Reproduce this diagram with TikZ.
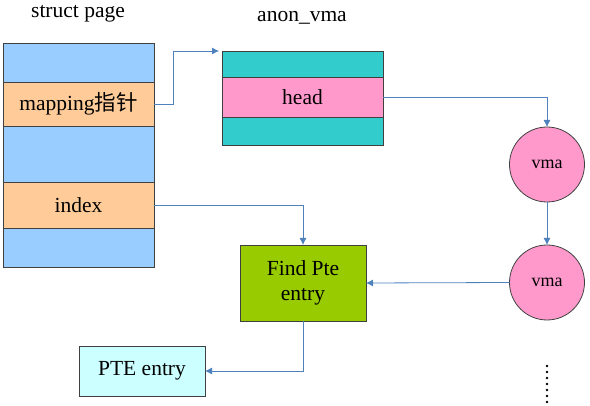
\documentclass[tikz,border=0pt]{standalone}
\usepackage{fontspec}
\setmainfont{Liberation Serif}
\newfontfamily\cjk{Noto Sans CJK SC}
\usetikzlibrary{arrows.meta}
\definecolor{pgblue}{HTML}{99CCFF}
\definecolor{pgorange}{HTML}{FFCC99}
\definecolor{avteal}{HTML}{33CCCC}
\definecolor{avpink}{HTML}{FF99CC}
\definecolor{fgreen}{HTML}{99CC00}
\definecolor{pcyan}{HTML}{CCFFFF}
\definecolor{arrowblue}{HTML}{4F81BD}
\tikzset{
  cell/.style={draw=black!75, line width=0.8pt, rectangle, inner sep=0pt, outer sep=0pt, font=\rmfamily\fontsize{21.5}{25}\selectfont},
  vmanode/.style={draw=black!75, line width=0.8pt, circle, fill=avpink, minimum size=75pt, inner sep=0pt, outer sep=0pt, font=\rmfamily\fontsize{18}{20}\selectfont},
  link/.style={draw=arrowblue, line width=0.8pt, -{Latex[length=7pt,width=7pt]}},
  title/.style={font=\rmfamily\fontsize{21.5}{25}\selectfont, inner sep=0pt, anchor=base}
}
\begin{document}
\begin{tikzpicture}[x=1pt,y=-1pt]
\useasboundingbox (0,0) rectangle (590,406);
% struct page
\node[title] (sptitle) at (78,18) {struct page};
\node[cell, fill=pgblue, minimum width=151pt, minimum height=39pt] (sp1) at (78.5,62.5) {};
\node[cell, fill=pgorange, minimum width=151pt, minimum height=44pt] (map) at (78.5,104) {mapping{\cjk 指针}};
\node[cell, fill=pgblue, minimum width=151pt, minimum height=56pt] (sp2) at (78.5,154) {};
\node[cell, fill=pgorange, minimum width=151pt, minimum height=46pt] (idx) at (78.5,205) {index};
\node[cell, fill=pgblue, minimum width=151pt, minimum height=39pt] (sp3) at (78.5,247.5) {};
% anon_vma
\node[title] (avtitle) at (302,22) {anon\_vma};
\node[cell, fill=avteal, minimum width=161pt, minimum height=26pt] (av1) at (302.5,64) {};
\node[cell, fill=avpink, minimum width=161pt, minimum height=40pt] (head) at (302.5,97) {head};
\node[cell, fill=avteal, minimum width=161pt, minimum height=28pt] (av2) at (302.5,131) {};
% vmas
\node[vmanode] (vma1) at (547,164.5) {vma};
\node[vmanode] (vma2) at (547,282.5) {vma};
% find pte
\node[cell, fill=fgreen, minimum width=126pt, minimum height=76pt, align=center] (find) at (303,283) {Find Pte\\entry};
\node[cell, fill=pcyan, minimum width=126pt, minimum height=50pt] (pte) at (142,371) {PTE entry};
% dots
\foreach \i in {0,...,6} \fill (547,366+6*\i) circle (1.3pt);
% connectors
\coordinate (bend) at (173,104);
\draw[link] (map.east) -- (bend) |- ([xshift=-3pt]av1.north west);
\draw[link] (head.east) -| (vma1.north);
\draw[link] (vma1.south) -- (vma2.north);
\draw[link] (vma2.west) -- (find.east);
\draw[link] (idx.east) -| (find.north);
\draw[link] (find.south) |- (pte.east);
\end{tikzpicture}
\end{document}
